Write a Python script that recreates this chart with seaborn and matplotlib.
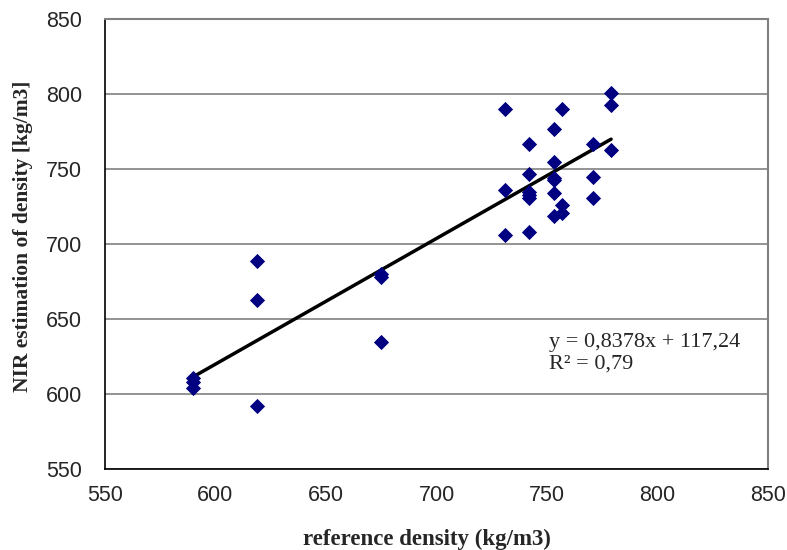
import matplotlib
matplotlib.use("Agg")
import matplotlib.pyplot as plt
import numpy as np
import pandas as pd
import seaborn as sns

# reference density vs NIR estimate (kg/m3)
ref_density = [590, 590, 590, 619, 619, 619, 675, 675, 675,
               731, 731, 731, 742, 742, 742, 742, 742, 742,
               753, 753, 753, 753, 753, 753, 757, 757, 757,
               771, 771, 771, 779, 779, 779]
nir_density = [611, 608, 604, 689, 663, 592, 680, 678, 635,
               790, 736, 706, 767, 747, 735, 733, 731, 708,
               777, 755, 743, 734, 719, 744, 790, 726, 721,
               767, 745, 731, 801, 793, 763]

# trendline printed on the chart
slope = 0.8378
intercept = 117.24
eq_text = "y = 0,8378x + 117,24\nR² = 0,79"

x_ticks = [550, 600, 650, 700, 750, 800, 850]
y_ticks = [550, 600, 650, 700, 750, 800, 850]

df = pd.DataFrame({"ref": ref_density, "nir": nir_density})
xs = np.array([min(ref_density), max(ref_density)])
trend = pd.DataFrame({"ref": xs, "nir": slope * xs + intercept})

sns.set_style("white")
fig = plt.figure(figsize=(7.87, 5.5), dpi=100)
ax = fig.add_axes([105 / 787, 1 - 469 / 550, 663 / 787, 450 / 550])

sns.lineplot(data=trend, x="ref", y="nir", color="black", linewidth=2.5, ax=ax, zorder=3)
sns.scatterplot(data=df, x="ref", y="nir", marker="D", s=60, color="#000080",
                edgecolor="#000080", linewidth=0, ax=ax, zorder=4)

ax.set_xlim(550, 850)
ax.set_ylim(550, 850)
ax.set_xticks(x_ticks)
ax.set_yticks(y_ticks)
ax.yaxis.grid(True, color="#808080", linewidth=1.2)
ax.xaxis.grid(False)
ax.set_axisbelow(True)

for s in ["left", "bottom"]:
    ax.spines[s].set_color("black")
    ax.spines[s].set_linewidth(1.2)
for s in ["right", "top"]:
    ax.spines[s].set_color("#808080")
    ax.spines[s].set_linewidth(1.5)

ax.tick_params(axis="both", direction="out", length=4.5, width=1, color="black",
               labelsize=15.5)
ax.tick_params(axis="x", pad=7)
ax.tick_params(axis="y", pad=12)
for lab in ax.get_xticklabels() + ax.get_yticklabels():
    lab.set_fontfamily("Liberation Sans")

ax.set_xlabel("reference density (kg/m3)", fontsize=16.5, fontweight="bold",
              family="Liberation Serif")
ax.set_ylabel("NIR estimation of density [kg/m3]", fontsize=15.5, fontweight="bold",
              family="Liberation Serif")
ax.xaxis.set_label_coords(0.486, -0.133)
ax.yaxis.set_label_coords(-0.108, 0.516)

ax.text(751, 627, eq_text, fontsize=16, family="Liberation Serif",
        ha="left", va="center", linespacing=1.15)

fig.savefig("out.png", dpi=100)
